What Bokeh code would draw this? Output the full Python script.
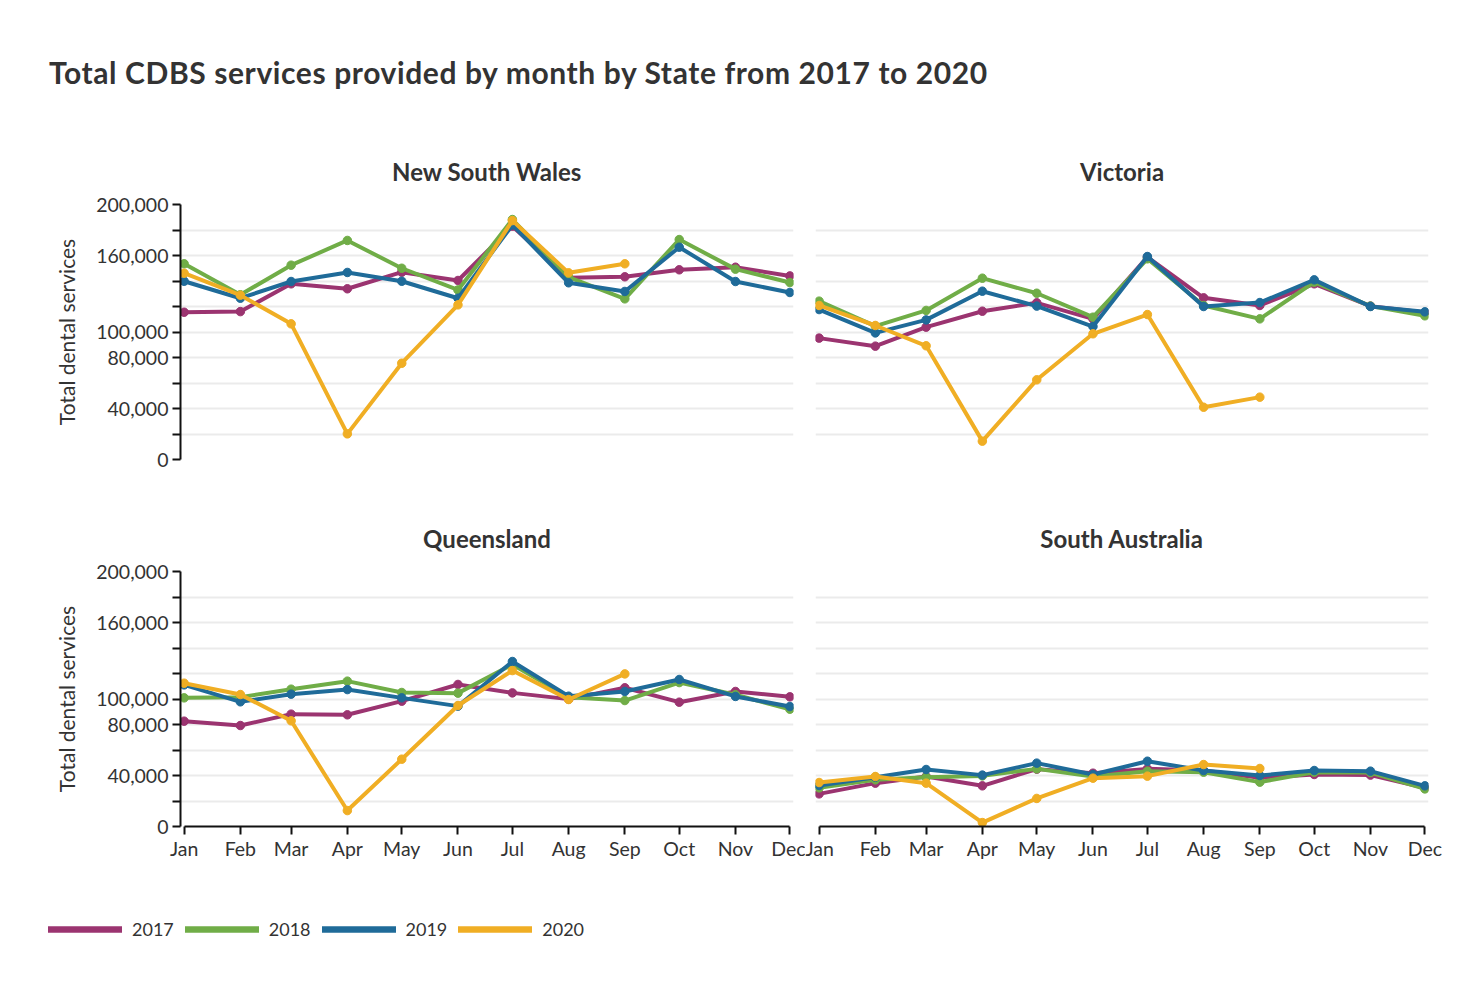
from bokeh.plotting import figure
from bokeh.layouts import column, row
from bokeh.models import Range1d, FixedTicker, Div, Legend, LegendItem, NumeralTickFormatter
from bokeh.embed import file_html
from bokeh.resources import INLINE

# ---------------- data ----------------
months = ["Jan", "Feb", "Mar", "Apr", "May", "Jun", "Jul", "Aug", "Sep", "Oct", "Nov", "Dec"]
month_start_day = [0, 31, 59, 90, 120, 151, 181, 212, 243, 273, 304, 334]
years = ["2017", "2018", "2019", "2020"]
colors = ["#9b3470", "#70ad47", "#1f6b99", "#f0ae24"]

nsw_2017 = [115500, 116000, 137800, 133900, 146900, 140400, 183000, 142500, 143300, 148800, 150800, 144000]
nsw_2018 = [153500, 129200, 152400, 171800, 150000, 133000, 188200, 143000, 126000, 172500, 149300, 138800]
nsw_2019 = [139800, 126500, 139600, 146700, 139800, 126500, 184000, 138600, 131800, 166500, 139600, 131000]
nsw_2020 = [146100, 128900, 106400, 20100, 75500, 121300, 187400, 146400, 153500]

vic_2017 = [95200, 88900, 103800, 116300, 122900, 110300, 158700, 126800, 120800, 137800, 120300, 115300]
vic_2018 = [124200, 104600, 116900, 142200, 130400, 111600, 157400, 120800, 110300, 139100, 120300, 112700]
vic_2019 = [117600, 99300, 109500, 132000, 120300, 104300, 159200, 120000, 123100, 140900, 120000, 115800]
vic_2020 = [120800, 105100, 89200, 14400, 62500, 98600, 113700, 41000, 48900]

qld_2017 = [82600, 79200, 88100, 87600, 98300, 111400, 104800, 99900, 108800, 97500, 105900, 101700]
qld_2018 = [100900, 101400, 107700, 114000, 105100, 104600, 127100, 101400, 98800, 112900, 103300, 92000]
qld_2019 = [111100, 97800, 103800, 107400, 100900, 94400, 129400, 102200, 105900, 115300, 102000, 94100]
qld_2020 = [112400, 103500, 82900, 12500, 52800, 94900, 122300, 99600, 119700]

sa_2017 = [25600, 34000, 39200, 31900, 45000, 41800, 45200, 43900, 38200, 40800, 40300, 30300]
sa_2018 = [30300, 36600, 38700, 39700, 45200, 39200, 43400, 42600, 34800, 42600, 42300, 29500]
sa_2019 = [32200, 38700, 44700, 40300, 49700, 40800, 51200, 43900, 40000, 43900, 43400, 31900]
sa_2020 = [34500, 39200, 34000, 3100, 22000, 37900, 39500, 48600, 45500]

y_ticks = [0, 20000, 40000, 60000, 80000, 100000, 120000, 140000, 160000, 180000, 200000]
y_unlabeled = [20000, 60000, 120000, 140000, 180000]

chart_title = "Total CDBS services provided by month by State from 2017 to 2020"
y_title = "Total dental services"

FONT = "Lato"
TEXT = "#333333"
PAD = 2.0  # days of padding so edge markers are not clipped


def make_panel(title, series, show_y, show_x, mb_left, mb_right, mb_top, mb_bottom):
    p = figure(frame_width=613, frame_height=255,
               x_range=Range1d(-PAD, 334 + PAD), y_range=Range1d(0, 200000),
               output_backend="svg", toolbar_location=None,
               min_border_left=mb_left, min_border_right=mb_right,
               min_border_top=mb_top, min_border_bottom=mb_bottom)
    p.outline_line_color = None
    p.background_fill_color = "white"
    p.border_fill_color = "white"
    p.title.text = title
    p.title.align = "center"
    p.title.text_font = FONT
    p.title.text_font_size = "24px"
    p.title.text_font_style = "bold"
    p.title.text_color = TEXT
    p.title.standoff = 38

    p.xgrid.visible = False
    p.ygrid.ticker = FixedTicker(ticks=y_ticks, minor_ticks=[])
    p.ygrid.grid_line_color = "#ebebeb"
    p.ygrid.grid_line_width = 2

    for axis in p.yaxis:
        axis.ticker = FixedTicker(ticks=y_ticks, minor_ticks=[])
    for axis in p.xaxis:
        axis.ticker = FixedTicker(ticks=month_start_day, minor_ticks=[])

    if show_y:
        ya = p.yaxis[0]
        ya.formatter = NumeralTickFormatter(format="0,0")
        ya.major_label_overrides = {t: "" for t in y_unlabeled}
        ya.major_tick_out = 8
        ya.major_tick_in = 0
        ya.minor_tick_out = 0
        ya.minor_tick_in = 0
        ya.axis_line_width = 2
        ya.axis_line_color = "#111111"
        ya.major_tick_line_width = 2
        ya.major_tick_line_color = "#111111"
        ya.major_label_text_font = FONT
        ya.major_label_text_font_size = "19.5px"
        ya.major_label_text_color = TEXT
        ya.major_label_standoff = 4
        ya.axis_label = y_title
        ya.axis_label_text_font = FONT
        ya.axis_label_text_font_size = "21px"
        ya.axis_label_text_font_style = "normal"
        ya.axis_label_text_color = TEXT
        ya.axis_label_standoff = 14
    else:
        p.yaxis.visible = False

    if show_x:
        xa = p.xaxis[0]
        xa.bounds = (0, 334)
        xa.major_label_overrides = {d: m for d, m in zip(month_start_day, months)}
        xa.major_tick_out = 8
        xa.major_tick_in = 0
        xa.minor_tick_out = 0
        xa.minor_tick_in = 0
        xa.axis_line_width = 2
        xa.axis_line_color = "#111111"
        xa.major_tick_line_width = 2
        xa.major_tick_line_color = "#111111"
        xa.major_label_text_font = FONT
        xa.major_label_text_font_size = "19.5px"
        xa.major_label_text_color = TEXT
        xa.major_label_standoff = 2
    else:
        p.xaxis.visible = False

    for vals, c in zip(series, colors):
        xs = month_start_day[:len(vals)]
        p.line(xs, vals, line_width=4, color=c, line_join="round")
        p.scatter(xs, vals, size=8.5, color=c)
    return p


p_nsw = make_panel("New South Wales", [nsw_2017, nsw_2018, nsw_2019, nsw_2020], True, False, 180, 12, 76, 20)
p_vic = make_panel("Victoria", [vic_2017, vic_2018, vic_2019, vic_2020], False, False, 10, 20, 76, 20)
p_qld = make_panel("Queensland", [qld_2017, qld_2018, qld_2019, qld_2020], True, True, 180, 12, 92, 40)
p_sa = make_panel("South Australia", [sa_2017, sa_2018, sa_2019, sa_2020], False, True, 10, 20, 92, 40)

# ---------------- legend ----------------
p_leg = figure(width=700, height=80, x_range=Range1d(0, 1), y_range=Range1d(0, 1),
               output_backend="svg", toolbar_location=None, min_border=0)
p_leg.axis.visible = False
p_leg.grid.visible = False
p_leg.outline_line_color = None
items = []
for yr, c in zip(years, colors):
    r = p_leg.line([5, 6], [5, 6], line_width=6.5, color=c, line_cap="round")
    items.append(LegendItem(label=yr, renderers=[r]))
legend = Legend(items=items, orientation="horizontal", location=(48, 6),
                glyph_width=74, glyph_height=20, label_standoff=10, spacing=11,
                padding=0, margin=0, border_line_color=None, background_fill_alpha=0,
                label_text_font=FONT, label_text_font_size="18px", label_text_color=TEXT)
p_leg.add_layout(legend)

title_div = Div(text=('<div style="margin:51px 0 0 49px; font-family:Lato; font-size:30px; '
                      'letter-spacing:0.6px; font-weight:bold; color:#333333; white-space:nowrap;">'
                      + chart_title + '</div>'),
                width=1440, height=128, margin=0)

layout = column(title_div, row(p_nsw, p_vic), row(p_qld, p_sa), p_leg)
open("out.html", "w").write(file_html(layout, INLINE))
